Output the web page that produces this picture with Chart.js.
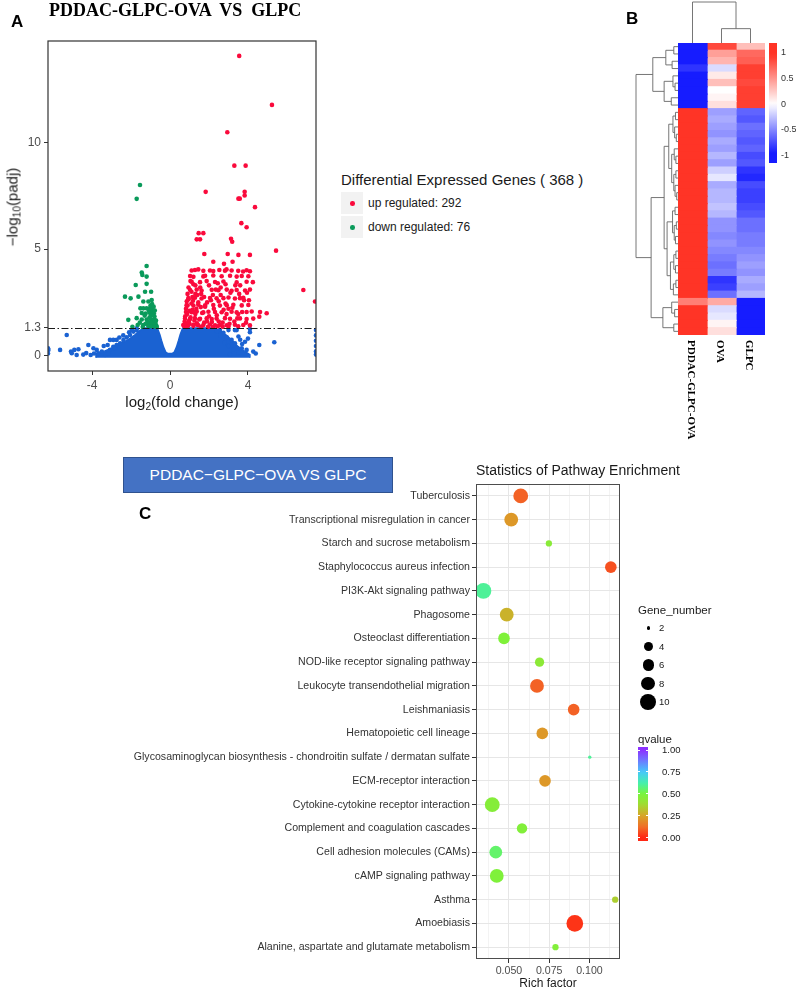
<!DOCTYPE html>
<html><head><meta charset="utf-8">
<script src="https://cdn.jsdelivr.net/npm/chart.js@4.4.1/dist/chart.umd.min.js"></script>
<style>
html,body{margin:0;padding:0;background:#fff;}
#root{position:relative;width:796px;height:991px;overflow:hidden;font-family:"Liberation Sans",Arial,Helvetica,sans-serif;color:#1a1a1a;background:#fff;}
canvas{position:absolute;}
.t{position:absolute;white-space:pre;line-height:1;}
sub{font-size:0.68em;vertical-align:-0.25em;line-height:0;}
</style></head><body><div id="root">
<canvas id="volcano" width="330" height="420" style="left:0;top:0;width:330px;height:420px"></canvas>
<canvas id="heat" width="196" height="480" style="left:600px;top:0;width:196px;height:480px"></canvas>
<canvas id="bubble" width="540" height="520" style="left:100px;top:470px;width:540px;height:520px"></canvas>

<div class="t" style="left:11px;top:13px;font-size:17px;font-weight:bold;color:#000">A</div>
<div class="t" style="left:49px;top:0px;font:bold 18px 'Liberation Serif','Times New Roman',serif;color:#000">PDDAC-GLPC-OVA  VS  GLPC</div>
<div class="t" style="left:12px;top:207px;font-size:15px;transform:translate(-50%,-50%) rotate(-90deg)">−log<sub>10</sub>(padj)</div>
<div class="t" style="left:182px;top:394px;font-size:15px;transform:translateX(-50%)">log<sub>2</sub>(fold change)</div>

<div class="t" style="left:341px;top:172px;font-size:15px">Differential Expressed Genes ( 368 )</div>
<div style="position:absolute;left:341px;top:192px;width:22px;height:22px;background:#f2f2f2"></div>
<div style="position:absolute;left:341px;top:216px;width:22px;height:22px;background:#f2f2f2"></div>
<div id="upDot" style="position:absolute;left:350px;top:201px;width:4.6px;height:4.6px;border-radius:50%"></div>
<div id="downDot" style="position:absolute;left:350px;top:225px;width:4.6px;height:4.6px;border-radius:50%"></div>
<div class="t" style="left:368px;top:197px;font-size:12px">up regulated: 292</div>
<div class="t" style="left:368px;top:221px;font-size:12px">down regulated: 76</div>

<div class="t" style="left:626px;top:10px;font-size:17px;font-weight:bold;color:#000">B</div>
<div id="heatBar" style="position:absolute;left:769px;top:43px;width:8px;height:120px"></div>
<div id="heatBarLabels"></div>
<div id="heatColLabels"></div>

<div style="position:absolute;left:123px;top:457px;width:268px;height:34px;background:#4472c4;border:1px solid #2f528f"></div>
<div class="t" style="left:258px;top:467px;font-size:15.5px;color:#fff;transform:translateX(-50%)">PDDAC−GLPC−OVA VS GLPC</div>
<div class="t" style="left:139px;top:505px;font-size:17px;font-weight:bold;color:#000">C</div>
<div class="t" style="left:476px;top:463px;font-size:14px">Statistics of Pathway Enrichment</div>
<div class="t" style="left:548px;top:977px;font-size:12px;transform:translateX(-50%)">Rich factor</div>

<div class="t" style="left:638px;top:605px;font-size:11.5px">Gene_number</div>
<div id="sizeLegend"></div>
<div class="t" style="left:638px;top:734px;font-size:11.5px">qvalue</div>
<div id="qBar" style="position:absolute;left:638px;top:747px;width:10px;height:94px"></div>
<div id="qLabels"></div>
</div>
<script>
// ================= DATA =================
// Volcano plot (A)
const volcanoXTicks = [-4, 0, 4];
const volcanoYTicks = [0, 1.3, 5, 10];
const padjThreshold = 1.3;
const upRegulated = [
[3.55,14.07],[5.23,11.77],[2.94,10.49],[3.30,8.92],[3.88,8.92],[1.83,7.69],[3.83,7.69],[3.51,7.37],[3.58,7.37],[3.83,7.52],
[4.36,6.97],[3.66,6.22],[3.93,6.03],[1.47,5.75],[1.71,5.75],[1.37,5.46],[1.54,5.46],[3.13,5.49],[3.19,5.35],[5.44,4.93],
[1.76,4.77],[2.96,4.77],[3.51,4.73],[4.10,4.73],[2.22,4.41],[2.77,4.31],[3.21,4.41],
[1.11,4.00],[1.28,4.02],[1.71,3.98],[2.05,4.00],[2.22,3.97],[2.53,4.02],[2.82,3.99],[3.16,4.00],[3.50,3.98],[3.93,4.01],[4.10,3.96],
[1.03,3.74],[1.71,3.72],[2.22,3.76],[2.65,3.73],[3.08,3.75],[3.42,3.71],[3.68,3.74],[4.02,3.73],
[1.11,3.47],[1.54,3.45],[1.88,3.50],[2.31,3.46],[2.74,3.48],[3.42,3.44],[3.93,3.47],
[1.03,3.08],[1.37,3.10],[1.62,3.06],[2.14,3.09],[2.48,3.07],[2.91,3.10],[3.16,3.05],[3.42,3.08],[3.85,3.06],[4.10,3.10],
[0.94,2.70],[1.28,2.72],[1.62,2.68],[2.05,2.71],[2.39,2.69],[2.74,2.70],[3.00,2.73],[3.33,2.68],[3.59,2.70],[3.76,2.72],
[0.85,2.37],[1.20,2.35],[1.45,2.39],[1.80,2.36],[2.22,2.38],[2.56,2.35],[2.91,2.37],[3.25,2.39],[3.68,2.36],[4.02,2.38],
[0.82,2.05],[1.11,2.04],[1.37,2.07],[1.71,2.03],[1.97,2.06],[2.31,2.05],[2.65,2.04],[3.16,2.06],[3.42,2.03],[3.93,2.05],[4.19,2.07],[4.62,2.05],[4.96,1.99],[4.58,1.83],
[0.77,1.74],[1.03,1.72],[1.28,1.76],[1.54,1.73],[1.88,1.75],[2.14,1.72],[2.39,1.74],[2.82,1.76],[3.08,1.73],[3.59,1.75],[3.93,1.72],[4.27,1.74],
[0.68,1.44],[0.94,1.42],[1.20,1.45],[1.45,1.43],[1.71,1.44],[2.05,1.46],[2.31,1.42],[2.56,1.44],[2.91,1.43],[3.33,1.45],[3.76,1.44],[4.10,1.42],
[6.84,3.08],[7.44,2.54],
[0.72,1.40],[0.75,1.60],[0.78,1.85],[0.82,2.20],[0.86,2.55],[0.90,2.90],[0.95,3.20],[1.00,1.50],[1.05,1.80],[1.00,2.10],
[1.10,2.45],[1.15,2.75],[1.20,1.40],[1.25,1.65],[1.30,1.95],[1.35,2.20],[1.40,1.45],[1.50,1.70],[1.45,2.50],[0.95,2.65],
[1.10,3.00],[0.85,1.35],[1.60,1.35],[1.65,2.00],[1.20,3.35],[1.05,3.50],[0.90,2.35],[0.80,1.50],[1.30,2.90],[1.75,1.55],
[1.90,1.60],[1.80,2.30],[1.60,2.90],[2.00,3.30],[2.60,3.20],[3.00,2.20],[2.40,1.90],[1.90,2.50],[2.70,1.55],[3.30,1.60],
[3.50,1.95],[2.90,1.95],[1.30,3.30],[1.80,3.75],[2.50,2.55],[3.80,2.60],[3.60,3.30],[4.25,3.45],[2.20,2.85],[1.15,2.15],
[3.95,2.95],[2.45,3.40],[0.88,1.95],[1.18,2.58],[1.38,1.52],[1.58,2.28],[0.96,1.62],[1.24,2.05],[2.15,1.58],[2.85,2.45],
[2.00,1.85],[2.25,2.20],[2.50,1.60],[2.75,2.15],[3.05,1.50],[3.20,2.25],[3.45,1.75],[3.70,2.05],[3.90,1.55],[4.05,2.60],
[2.10,2.60],[2.35,3.10],[2.60,2.85],[2.85,3.35],[3.10,2.95],[3.35,3.30],[3.55,2.90],[1.95,1.35],[2.20,1.35],[2.45,1.38],
[2.70,1.36],[3.00,1.37],[3.50,1.38],[1.55,3.20],[1.75,2.75],[1.40,2.85],[1.20,3.70],[1.45,4.05],[2.90,4.05],[3.75,3.95]
];
const downRegulated = [
[-1.54,8.01],[-1.71,7.36],
[-1.20,4.21],[-1.45,3.90],[-1.42,3.79],[-1.20,3.71],[-1.76,3.32],[-1.20,3.37],[-1.28,3.00],[-0.97,3.00],[-2.31,2.77],[-2.02,2.69],
[-1.62,2.77],[-1.37,2.54],[-1.11,2.54],[-0.94,2.61],[-1.52,2.22],[-1.37,2.22],[-1.20,2.22],[-1.03,2.22],[-0.91,2.24],[-1.45,2.00],
[-1.25,1.98],[-1.04,2.01],[-0.83,1.99],[-2.14,1.68],[-1.71,1.76],[-1.45,1.70],[-1.20,1.70],[-0.97,1.70],[-0.80,1.72],[-1.66,1.44],
[-1.37,1.44],[-1.11,1.44],[-0.90,1.46],[-0.73,1.44],[-1.93,1.36],
[-0.70,1.40],[-0.75,1.55],[-0.80,1.85],[-0.85,1.52],[-0.90,1.65],[-0.95,1.90],[-1.00,1.55],[-1.05,1.80],[-0.88,2.08],[-0.78,2.12],
[-1.15,1.60],[-1.25,1.50],[-1.00,2.35],[-0.92,2.42],[-1.10,1.38],[-1.30,1.88],[-1.55,1.55],[-0.68,1.34],[-0.72,1.65],[-0.84,2.30],
[-1.08,2.10],[-0.95,1.38],[-1.40,1.35],[-0.80,1.38]
];
const notSignificant = [
[-5.30,0.97],[-5.64,0.27],[-6.24,0.27],[-6.26,0.10],[-6.26,0.35],[-5.08,0.19],[-4.91,0.27],[-4.70,0.30],[-4.79,0.03],[-5.04,0.11],
[-4.19,0.50],[-4.07,0.03],[-3.93,0.35],[-3.76,0.27],[-3.68,0.11],[-3.50,0.19],[-3.33,0.03],[-3.16,0.11],[-3.08,0.27],[-2.91,0.42],
[-2.74,0.50],[-2.56,0.58],[-2.39,0.73],[-2.22,0.86],[-2.05,0.97],[-1.88,1.13],[-1.71,1.20],[-3.08,0.74],[-2.91,0.74],[-2.74,0.74],
[-2.82,0.35],[-1.96,1.20],[-1.71,1.28],[-3.40,0.45],[-3.20,0.50],[-2.60,0.85],[-2.40,0.95],[-2.10,1.10],[-3.90,0.10],[-4.30,0.12],
[-4.45,0.05],
[3.42,1.20],[4.10,1.25],[3.51,0.90],[3.85,0.65],[3.68,0.35],[3.93,0.27],[4.27,0.19],[4.58,0.50],[5.35,0.63],[3.16,0.74],
[3.33,0.58],[2.91,0.86],[2.74,1.07],[3.00,1.20],[2.56,1.20],[3.25,0.30],[3.51,0.14],[3.08,0.05],[3.33,1.20],[4.10,1.10],
[2.60,0.95],[2.80,0.60],[3.00,0.45],[3.70,0.55],[4.00,0.80],[2.40,1.15],[3.60,0.75],[4.40,0.10],
[7.49,1.20],[7.49,0.95],[7.49,0.70],[7.49,0.45],[7.49,0.20],[7.49,0.05]
];
// outline of the dense (overplotted) non-significant cloud
const notSignificantDense = [
[-3.8,-0.1],[-3.8,0.05],[-3.4,0.20],[-3.0,0.35],[-2.7,0.50],[-2.4,0.62],[-2.1,0.78],[-1.8,0.98],[-1.55,1.18],[-1.35,1.30],
[-0.65,1.30],[-0.52,0.98],[-0.44,0.72],[-0.33,0.40],[-0.22,0.17],[-0.10,0.10],[0.10,0.10],[0.22,0.17],[0.33,0.40],[0.44,0.72],
[0.52,0.98],[0.65,1.30],[2.30,1.30],[2.60,1.15],[2.90,0.95],[3.20,0.70],[3.50,0.42],[3.80,0.22],[4.10,0.05],[4.10,-0.1]
];

// Heatmap (B)
const heatmapSamples = ['PDDAC-GLPC-OVA', 'OVA', 'GLPC'];
const zPDDAC = [-1,-1,-1,-0.85,-0.95,-1,-1,-1,-1,
 1,1,1,1,1,1,1,1,1,1,1,1,1,1,1,1,1,1,1,1,1,1,1,1,1,1,
 0.6,1,1,1,1];
const zOVA = [0.85,0.45,0.35,-0.15,0.1,0.3,0.0,0.05,0.15,
 -0.4,-0.35,-0.4,-0.45,-0.35,-0.4,-0.3,-0.4,-0.2,-0.1,-0.35,-0.3,-0.3,-0.25,-0.3,-0.45,-0.45,-0.5,-0.45,-0.5,-0.55,-0.6,-0.55,-0.85,-0.8,-0.6,
 0.4,-0.15,-0.1,0.05,0.15];
const zGLPC = [0.3,0.7,0.75,0.9,0.9,0.85,0.9,0.9,0.9,
 -0.65,-0.7,-0.6,-0.65,-0.7,-0.65,-0.75,-0.7,-0.85,-0.9,-0.75,-0.8,-0.8,-0.75,-0.7,-0.6,-0.6,-0.55,-0.55,-0.5,-0.45,-0.4,-0.45,-0.35,-0.4,-0.3,
 -1,-1,-0.95,-1,-0.95];
const heatLegendTicks = [1, 0.5, 0, -0.5, -1];
// dendrograms: [height, left, right]; leaves are row / column indices
const rowTree = [10,
  [6, [2.9, [1.0, 0, 1], [1.4, 2, 3]], [3.3, [1.2, 4, [0.7, 5, 6]], [1.6, 7, 8]]],
  [6.4,
    [3.3,
      [2.2, [1.2, [0.6, 9, 10], [0.8, 11, [0.4, 12, 13]]], [1.5, [0.9, 14, [0.5, 15, 16]], [1.0, [0.5, 17, 18], [0.7, 19, [0.3, 20, 21]]]]],
      [2.6, [1.3, [0.7, 22, 23], [0.9, [0.4, 24, 25], [0.6, 26, 27]]], [1.8, [1.0, [0.5, 28, 29], [0.6, 30, 31]], [1.1, [0.5, 32, 33], 34]]]],
    [3.6, [1.5, 35, [0.8, 36, 37]], [1.0, 38, 39]]]];
const colTree = [10, 0, [3.5, 1, 2]];

// Pathway enrichment (C)
const pathways = ['Tuberculosis','Transcriptional misregulation in cancer','Starch and sucrose metabolism',
 'Staphylococcus aureus infection','PI3K-Akt signaling pathway','Phagosome','Osteoclast differentiation',
 'NOD-like receptor signaling pathway','Leukocyte transendothelial migration','Leishmaniasis',
 'Hematopoietic cell lineage','Glycosaminoglycan biosynthesis - chondroitin sulfate / dermatan sulfate',
 'ECM-receptor interaction','Cytokine-cytokine receptor interaction','Complement and coagulation cascades',
 'Cell adhesion molecules (CAMs)','cAMP signaling pathway','Asthma','Amoebiasis',
 'Alanine, aspartate and glutamate metabolism'];
const richFactor = [0.0573,0.0514,0.0748,0.1133,0.0341,0.0486,0.0469,0.0690,0.0674,0.0902,
                    0.0707,0.1002,0.0724,0.0396,0.0581,0.0418,0.0424,0.1160,0.0909,0.0789];
const geneNumber = [9,8,3,6,10,8,6,4,8,6,6,2,6,9,5,7,8,3,11,3];
const qValue = [0.10,0.22,0.45,0.07,0.60,0.28,0.48,0.44,0.10,0.10,0.22,0.60,0.22,0.46,0.47,0.55,0.48,0.35,0.02,0.47];
const richMajorTicks = [0.050, 0.075, 0.100];
const richMinorTicks = [0.0375, 0.0625, 0.0875, 0.1125];
const geneLegend = [2, 4, 6, 8, 10];
const qLegend = [1.00, 0.75, 0.50, 0.25, 0.00];

// ================= STYLE HELPERS =================
const UP = '#fa0a3c', DOWN = '#0a9a5a', NS = '#1a62d2';
Chart.defaults.font.family = '"Liberation Sans", Arial, sans-serif';
Chart.defaults.animation = false;

function mix(a, b, t){ return a.map((v,i)=>Math.round(v + (b[i]-v)*t)); }
const HRED = [255,52,38], HBLUE = [22,28,255], WHITE = [255,255,255];
function heatColor(v){
  const t = Math.min(1, Math.abs(v)/0.95);
  const c = v >= 0 ? mix(WHITE, HRED, t) : mix(WHITE, HBLUE, t);
  return `rgb(${c[0]},${c[1]},${c[2]})`;
}
const qStops = [[0,[255,40,20]],[0.12,[240,110,40]],[0.25,[215,165,40]],[0.38,[160,220,50]],[0.5,[120,245,60]],
                [0.62,[70,240,170]],[0.75,[70,200,250]],[0.88,[110,120,255]],[1,[140,50,255]]];
function qColor(q){
  q = Math.max(0, Math.min(1, q));
  for (let i=1;i<qStops.length;i++){
    if (q <= qStops[i][0]){
      const [q0,c0] = qStops[i-1], [q1,c1] = qStops[i];
      const c = mix(c0, c1, (q-q0)/(q1-q0));
      return `rgb(${c[0]},${c[1]},${c[2]})`;
    }
  }
  return 'rgb(140,50,255)';
}
const sizeTable = [[2,1.7],[4,4.6],[6,5.8],[8,6.9],[10,7.9],[12,8.8]];
function sizeOf(n){
  for (let i=1;i<sizeTable.length;i++){
    if (n <= sizeTable[i][0]){
      const [n0,r0] = sizeTable[i-1], [n1,r1] = sizeTable[i];
      return r0 + (r1-r0)*(n-n0)/(n1-n0);
    }
  }
  return 8.8;
}

// ================= A: VOLCANO =================
const pts = arr => arr.map(p => ({x:p[0], y:p[1]}));
const volcanoDecor = {
  id:'volcanoDecor',
  afterDatasetsDraw(chart){
    const {ctx, chartArea:a, scales:{y}} = chart;
    const yy = Math.round(y.getPixelForValue(padjThreshold)) + 0.5;
    ctx.save();
    ctx.strokeStyle = '#1a1a1a'; ctx.lineWidth = 1;
    ctx.setLineDash([7,2.5,1.5,2.5]);
    ctx.beginPath(); ctx.moveTo(a.left, yy); ctx.lineTo(a.right, yy); ctx.stroke();
    ctx.restore();
  },
  afterDraw(chart){
    const {ctx, chartArea:a} = chart;
    ctx.save(); ctx.strokeStyle = '#333'; ctx.lineWidth = 1.2;
    ctx.strokeRect(a.left, a.top, a.right-a.left, a.bottom-a.top);
    ctx.restore();
  }
};
new Chart(document.getElementById('volcano'), {
  type:'scatter',
  data:{datasets:[
    {label:'up', data:pts(upRegulated), backgroundColor:UP, pointRadius:2.3, borderWidth:0},
    {label:'down', data:pts(downRegulated), backgroundColor:DOWN, pointRadius:2.3, borderWidth:0},
    {label:'ns', data:pts(notSignificant), backgroundColor:NS, pointRadius:2.3, borderWidth:0},
    {label:'nsDense', type:'line', data:pts(notSignificantDense), showLine:true, tension:0, pointRadius:0,
     borderColor:NS, borderWidth:1.5, backgroundColor:NS, fill:{value:-0.1}}
  ]},
  options:{
    responsive:false, devicePixelRatio:1, animation:false,
    layout:{padding:{top:41,right:14,left:0,bottom:0}},
    plugins:{legend:{display:false}, tooltip:{enabled:false}},
    scales:{
      x:{type:'linear', min:-6.26, max:7.49,
         afterBuildTicks(s){ s.ticks = volcanoXTicks.map(v=>({value:v})); },
         afterFit(s){ s.height = 49; },
         grid:{display:true, drawOnChartArea:false, drawTicks:true, tickLength:4, tickColor:'#333'},
         border:{display:false},
         ticks:{color:'#4d4d4d', font:{size:12}, padding:3, maxRotation:0, callback:v=>String(v)}},
      y:{type:'linear', min:-0.72, max:14.77,
         afterBuildTicks(s){ s.ticks = volcanoYTicks.map(v=>({value:v})); },
         afterFit(s){ s.width = 48; },
         grid:{display:true, drawOnChartArea:false, drawTicks:true, tickLength:4, tickColor:'#333'},
         border:{display:false},
         ticks:{color:'#4d4d4d', font:{size:12}, padding:3, callback:v=>String(v)}}
    }
  },
  plugins:[volcanoDecor]
});
document.getElementById('upDot').style.background = UP;
document.getElementById('downDot').style.background = DOWN;

// ================= B: HEATMAP =================
const rowLabels = zPDDAC.map((_,i)=>String(i));
const heatColumns = [zPDDAC, zOVA, zGLPC];
const heatDecor = {
  id:'heatDecor',
  afterDraw(chart){
    const {ctx, chartArea:a, scales:{x, y}} = chart;
    ctx.save();
    ctx.strokeStyle = '#666'; ctx.lineWidth = 0.9;
    const xOf = h => a.left - h*4.2;
    const yOfRow = i => y.getPixelForValue(i);
    ctx.beginPath();
    (function draw(node){
      if (typeof node === 'number') return {p:yOfRow(node), h:0};
      const [h, l, r] = node;
      const A = draw(l), B = draw(r), xx = xOf(h);
      ctx.moveTo(xOf(A.h), A.p); ctx.lineTo(xx, A.p); ctx.lineTo(xx, B.p); ctx.lineTo(xOf(B.h), B.p);
      return {p:(A.p+B.p)/2, h};
    })(rowTree);
    ctx.stroke();
    const yOf = h => a.top - h*4.1;
    const xOfCol = c => x.getPixelForValue(c + 0.5);
    ctx.beginPath();
    (function draw(node){
      if (typeof node === 'number') return {p:xOfCol(node), h:0};
      const [h, l, r] = node;
      const A = draw(l), B = draw(r), yy = yOf(h);
      ctx.moveTo(A.p, yOf(A.h)); ctx.lineTo(A.p, yy); ctx.lineTo(B.p, yy); ctx.lineTo(B.p, yOf(B.h));
      return {p:(A.p+B.p)/2, h};
    })(colTree);
    ctx.stroke();
    ctx.restore();
  }
};
const heatChart = new Chart(document.getElementById('heat'), {
  type:'bar',
  data:{labels:rowLabels, datasets: heatmapSamples.map((s,j)=>({
    label:s, data:heatColumns[j].map(()=>1), backgroundColor:heatColumns[j].map(heatColor),
    borderWidth:0, barPercentage:1, categoryPercentage:1, inflateAmount:0.6
  }))},
  options:{
    indexAxis:'y', responsive:false, devicePixelRatio:1, animation:false,
    layout:{padding:{left:78, right:31, top:43, bottom:145}},
    plugins:{legend:{display:false}, tooltip:{enabled:false}},
    scales:{x:{stacked:true, min:0, max:3, display:false}, y:{stacked:true, display:false}}
  },
  plugins:[heatDecor]
});
(function(){
  const xs = heatChart.scales.x, root = document.getElementById('heatColLabels');
  heatmapSamples.forEach((s,j)=>{
    const c = 600 + xs.getPixelForValue(j + 0.5);
    const d = document.createElement('div');
    d.className = 't';
    d.style.cssText = `left:${c+5.5}px;top:340px;font:bold 11px 'Liberation Serif','Times New Roman',serif;color:#000;transform:rotate(90deg);transform-origin:0 0;`;
    d.textContent = s; root.appendChild(d);
  });
  const vAt = yy => (104 - yy)/51.5;
  const stops = [];
  for (let k=0;k<=24;k++){ const yy = 43 + k*5; stops.push(`${heatColor(vAt(yy))} ${(k*5/120*100).toFixed(1)}%`); }
  document.getElementById('heatBar').style.background = `linear-gradient(to bottom, ${stops.join(',')})`;
  const lr = document.getElementById('heatBarLabels');
  heatLegendTicks.forEach(v=>{
    const d = document.createElement('div'); d.className='t';
    d.style.cssText = `left:781px;top:${104 - v*51.5 - 4.5}px;font-size:9px;color:#333;`;
    d.textContent = String(v); lr.appendChild(d);
  });
})();

// ================= C: PATHWAY ENRICHMENT =================
const bubbleDecor = {
  id:'bubbleDecor',
  afterDraw(chart){
    const {ctx, chartArea:a} = chart;
    ctx.save(); ctx.strokeStyle = '#4d4d4d'; ctx.lineWidth = 1;
    ctx.strokeRect(a.left+0.5, a.top+0.5, a.right-a.left-1, a.bottom-a.top-1);
    ctx.restore();
  }
};
const isMajor = v => richMajorTicks.some(m => Math.abs(m-v) < 1e-9);
new Chart(document.getElementById('bubble'), {
  type:'bubble',
  data:{datasets:[{
    data: pathways.map((p,i)=>({x:richFactor[i], y:i, r:sizeOf(geneNumber[i])})),
    backgroundColor: qValue.map(qColor), borderWidth:0, hoverRadius:0
  }]},
  options:{
    responsive:false, devicePixelRatio:1, animation:false,
    layout:{padding:{top:14, right:20, left:0, bottom:0}},
    plugins:{legend:{display:false}, tooltip:{enabled:false}},
    scales:{
      x:{type:'linear', min:0.0295, max:0.119,
         afterBuildTicks(s){ s.ticks = richMinorTicks.concat(richMajorTicks).sort((p,q)=>p-q).map(v=>({value:v})); },
         afterFit(s){ s.height = 31; },
         grid:{color:ctx=> isMajor(ctx.tick.value) ? '#e6e6e6' : '#f3f3f3', lineWidth:1, tickLength:4,
               tickColor:ctx=> isMajor(ctx.tick.value) ? '#333' : 'rgba(0,0,0,0)'},
         border:{display:false},
         ticks:{color:'#4d4d4d', font:{size:10.6}, padding:2, maxRotation:0, autoSkip:false,
                callback:v=> isMajor(v) ? v.toFixed(3) : ''}},
      y:{type:'linear', min:-0.5, max:19.5, reverse:true,
         afterBuildTicks(s){ s.ticks = pathways.map((_,i)=>({value:i})); },
         afterFit(s){ s.width = 376; },
         grid:{color:'#e6e6e6', lineWidth:1, tickLength:4, tickColor:'#333'},
         border:{display:false},
         ticks:{color:'#333', font:{size:10.6}, padding:2, autoSkip:false, callback:v=>pathways[v]}}
    }
  },
  plugins:[bubbleDecor]
});
(function(){
  const root = document.getElementById('sizeLegend');
  const ys = [628, 646.5, 665, 683.5, 702];
  geneLegend.forEach((n,i)=>{
    const r = sizeOf(n);
    const c = document.createElement('div');
    c.style.cssText = `position:absolute;left:${648.3-r}px;top:${ys[i]-r}px;width:${2*r}px;height:${2*r}px;border-radius:50%;background:#000;`;
    root.appendChild(c);
    const t = document.createElement('div'); t.className='t';
    t.style.cssText = `left:659px;top:${ys[i]-5}px;font-size:9.5px;color:#1a1a1a;`;
    t.textContent = String(n); root.appendChild(t);
  });
  const stops = [];
  for (let k=0;k<=47;k++){ const yy = 747 + k*2; const v = (837.5 - yy)/87.5; stops.push(`${qColor(v)} ${(k*2/94*100).toFixed(1)}%`); }
  document.getElementById('qBar').style.background = `linear-gradient(to bottom, ${stops.join(',')})`;
  const ql = document.getElementById('qLabels');
  qLegend.forEach(v=>{
    const yy = 837.5 - v*87.5;
    const tk = document.createElement('div');
    tk.style.cssText = `position:absolute;left:638px;top:${yy-0.5}px;width:2px;height:1px;background:#fff;`;
    ql.appendChild(tk);
    const tk2 = document.createElement('div');
    tk2.style.cssText = `position:absolute;left:646px;top:${yy-0.5}px;width:2px;height:1px;background:#fff;`;
    ql.appendChild(tk2);
    const t = document.createElement('div'); t.className='t';
    t.style.cssText = `left:662px;top:${yy-5}px;font-size:9.5px;color:#1a1a1a;`;
    t.textContent = v.toFixed(2); ql.appendChild(t);
  });
})();
</script>
</body></html>
